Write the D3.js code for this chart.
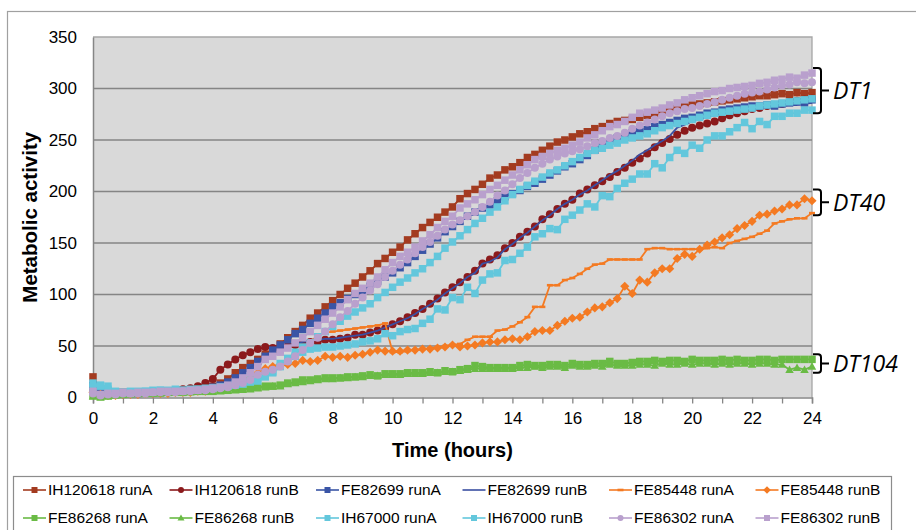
<!DOCTYPE html>
<html>
<head>
<meta charset="utf-8">
<script src="https://cdn.jsdelivr.net/npm/d3@7"></script>
<style>
  body { margin: 0; background: #fff; }
  svg { display: block; font-family: "Liberation Sans", Arial, sans-serif; }
</style>
</head>
<body>
<div id="chart"></div>
<script>
// sampling grid: one reading every 15 minutes
const hours = d3.range(0, 24.01, 0.25);

const seriesNames = [
  "IH120618 runA", "IH120618 runB", "FE82699 runA", "FE82699 runB", "FE85448 runA", "FE85448 runB",
  "FE86268 runA", "FE86268 runB", "IH67000 runA", "IH67000 runB", "FE86302 runA", "FE86302 runB",
];

const ih120618A = [
  20, 8, 6, 5, 5, 4, 5, 5, 5, 5, 6, 6, 7, 7, 8, 9,
  11, 14, 18, 24, 29, 33, 37, 42, 47, 52, 58, 64, 70, 77, 82, 88,
  94, 100, 106, 111, 117, 123, 130, 135, 141, 146, 153, 159, 165, 170, 175, 180,
  185, 193, 198, 202, 207, 213, 216, 221, 224, 228, 233, 236, 240, 244, 248, 250,
  253, 256, 258, 261, 263, 266, 268, 269, 270, 272, 274, 276, 278, 280, 281, 283,
  284, 285, 286, 287, 288, 289, 290, 291, 292, 293, 293, 294, 295, 294, 296, 295,
  296,
];
const ih120618B = [
  8, 4, 3, 3, 4, 4, 4, 5, 5, 5, 6, 6, 8, 9, 11, 14,
  18, 27, 32, 37, 41, 44, 47, 49, 48, 49, 50, 51, 53, 54, 54, 56,
  56, 57, 58, 61, 61, 63, 65, 67, 71, 74, 78, 82, 86, 91, 96, 102,
  107, 112, 117, 123, 130, 134, 138, 145, 150, 156, 161, 166, 173, 178, 183, 188,
  192, 198, 202, 206, 210, 214, 219, 223, 228, 232, 237, 243, 247, 251, 255, 259,
  262, 264, 266, 268, 271, 274, 276, 278, 280, 281, 283, 284, 285, 287, 288, 289,
  290,
];
const fe82699A = [
  12, 6, 5, 4, 4, 5, 4, 5, 5, 5, 5, 6, 6, 7, 7, 8,
  10, 12, 15, 19, 24, 29, 35, 40, 46, 51, 56, 62, 66, 72, 77, 82,
  88, 92, 96, 100, 104, 108, 113, 117, 121, 126, 131, 137, 143, 149, 155, 161,
  166, 171, 176, 180, 184, 187, 191, 195, 198, 201, 205, 208, 212, 216, 220, 224,
  227, 231, 235, 240, 246, 249, 252, 254, 257, 258, 260, 263, 265, 267, 269, 271,
  272, 274, 276, 277, 279, 280, 281, 282, 283, 283, 284, 283, 285, 286, 287, 286,
  289,
];
const fe82699B = [
  10, 5, 4, 4, 4, 4, 5, 5, 5, 5, 5, 6, 6, 7, 7, 8,
  9, 11, 14, 18, 23, 29, 35, 40, 45, 48, 50, 52, 54, 55, 56, 57,
  57, 58, 59, 60, 61, 63, 65, 68, 71, 74, 77, 81, 86, 90, 95, 101,
  106, 111, 117, 121, 130, 132, 136, 144, 149, 155, 160, 166, 172, 177, 183, 188,
  192, 197, 201, 206, 211, 216, 220, 225, 230, 236, 240, 245, 249, 254, 262, 265,
  268, 270, 272, 274, 276, 277, 278, 279, 280, 281, 282, 282, 283, 284, 284, 285,
  286,
];
const fe85448A = [
  3, 2, 2, 3, 3, 3, 4, 3, 4, 4, 4, 5, 5, 5, 6, 6,
  7, 8, 9, 10, 12, 15, 20, 26, 30, 33, 36, 42, 48, 54, 60, 63,
  64, 65, 66, 67, 68, 69, 70, 72, 44, 44, 45, 46, 47, 48, 49, 50,
  51, 52, 56, 59, 59, 59, 65, 66, 69, 73, 78, 88, 88, 109, 109, 114,
  116, 120, 125, 129, 130, 134, 134, 134, 134, 134, 144, 145, 145, 144, 144, 144,
  144, 144, 145, 146, 145, 150, 152, 154, 156, 159, 162, 169, 171, 173, 174, 174,
  179,
];
const fe85448B = [
  5, 3, 2, 2, 3, 3, 3, 4, 4, 4, 4, 5, 5, 5, 6, 6,
  7, 8, 10, 12, 15, 19, 24, 28, 30, 31, 32, 33, 36, 35, 36, 40,
  39, 40, 39, 41, 42, 44, 46, 45, 45, 45, 46, 46, 47, 47, 48, 49,
  51, 49, 50, 51, 53, 54, 54, 56, 57, 56, 59, 64, 65, 65, 70, 74,
  77, 78, 83, 87, 88, 92, 96, 108, 101, 114, 112, 121, 125, 125, 135, 139,
  137, 144, 148, 151, 155, 158, 164, 167, 171, 177, 178, 181, 183, 187, 187, 193,
  191,
];
const fe86268A = [
  2, 1, 2, 3, 3, 4, 4, 4, 4, 5, 5, 5, 5, 6, 6, 6,
  6, 7, 7, 8, 8, 9, 10, 11, 11, 12, 14, 15, 17, 17, 18, 19,
  19, 19, 20, 20, 21, 22, 21, 23, 23, 23, 24, 24, 24, 25, 24, 26,
  25, 27, 28, 31, 30, 29, 29, 29, 29, 31, 32, 31, 31, 32, 32, 31,
  33, 32, 32, 33, 33, 35, 33, 33, 34, 35, 35, 36, 35, 36, 36, 35,
  37, 36, 36, 36, 37, 36, 37, 36, 36, 37, 37, 36, 37, 37, 37, 37,
  37,
];
const fe86268B = [
  1, 0, 1, 2, 3, 3, 4, 4, 4, 4, 5, 5, 5, 5, 6, 6,
  6, 6, 7, 7, 8, 8, 9, 10, 11, 11, 13, 14, 15, 16, 17, 18,
  18, 19, 19, 20, 20, 21, 21, 22, 22, 22, 23, 23, 23, 24, 24, 25,
  25, 26, 27, 28, 28, 28, 28, 28, 28, 29, 29, 30, 29, 30, 30, 29,
  31, 30, 30, 31, 30, 32, 31, 31, 31, 32, 32, 31, 33, 32, 32, 33,
  32, 33, 33, 32, 33, 32, 33, 33, 32, 33, 33, 32, 32, 27, 29, 27,
  30,
];
const ih67000A = [
  14, 11, 11, 6, 5, 5, 6, 6, 7, 7, 6, 7, 7, 7, 8, 8,
  9, 10, 11, 13, 15, 17, 19, 21, 25, 33, 38, 44, 49, 53, 59, 64,
  69, 74, 79, 83, 87, 91, 97, 102, 107, 112, 116, 121, 125, 131, 137, 145,
  151, 157, 163, 169, 174, 180, 185, 191, 197, 202, 206, 210, 214, 218, 221, 225,
  229, 233, 237, 240, 242, 245, 247, 250, 252, 254, 256, 259, 262, 264, 266, 268,
  270, 272, 274, 276, 277, 278, 279, 280, 281, 283, 284, 285, 286, 287, 288, 289,
  290,
];
const ih67000B = [
  10, 12, 8, 5, 5, 6, 5, 6, 6, 7, 7, 8, 7, 8, 8, 9,
  9, 10, 11, 12, 13, 15, 16, 20, 24, 30, 36, 40, 44, 47, 48, 49,
  49, 50, 51, 52, 54, 55, 57, 62, 60, 64, 66, 67, 72, 76, 86, 85,
  97, 95, 107, 101, 114, 120, 121, 133, 134, 140, 146, 156, 159, 164, 163, 173,
  177, 182, 188, 185, 196, 195, 203, 208, 212, 217, 217, 227, 223, 233, 240, 237,
  245, 242, 250, 254, 254, 258, 262, 267, 261, 268, 265, 273, 273, 276, 276, 279,
  279,
];
const fe86302A = [
  4, 2, 3, 3, 4, 4, 4, 4, 5, 5, 5, 5, 6, 6, 7, 7,
  8, 9, 10, 12, 14, 17, 22, 25, 27, 30, 35, 40, 46, 53, 58, 64,
  71, 78, 84, 91, 97, 104, 110, 117, 123, 129, 134, 140, 146, 151, 157, 163,
  168, 172, 176, 180, 185, 190, 196, 201, 207, 213, 218, 223, 227, 231, 234, 237,
  239, 241, 244, 247, 249, 252, 254, 257, 261, 264, 267, 270, 273, 276, 278, 280,
  281, 283, 285, 287, 289, 291, 293, 295, 296, 297, 299, 301, 303, 304, 306, 305,
  306,
];
const fe86302B = [
  6, 3, 4, 4, 5, 4, 5, 5, 5, 6, 6, 6, 6, 7, 7, 8,
  9, 10, 12, 15, 19, 24, 30, 37, 40, 44, 48, 53, 58, 64, 70, 76,
  82, 88, 95, 101, 106, 111, 117, 124, 131, 137, 141, 146, 152, 158, 165, 171,
  176, 184, 188, 192, 197, 202, 206, 211, 216, 221, 226, 231, 234, 237, 240, 242,
  245, 248, 252, 255, 259, 263, 265, 268, 272, 276, 277, 279, 281, 284, 286, 289,
  291, 293, 295, 297, 298, 300, 301, 302, 303, 305, 306, 308, 309, 311, 310, 313,
  315,
];

const seriesValues = [
  ih120618A, ih120618B, fe82699A, fe82699B, fe85448A, fe85448B,
  fe86268A, fe86268B, ih67000A, ih67000B, fe86302A, fe86302B,
];

const yTicks = [0, 50, 100, 150, 200, 250, 300, 350];
const xTicks = [0, 2, 4, 6, 8, 10, 12, 14, 16, 18, 20, 22, 24];
const xMinorTicks = [0, 1, 2, 3, 4, 5, 6, 7, 8, 9, 10, 11, 12, 13, 14, 15, 16, 17, 18, 19, 20, 21, 22, 23, 24];

const groupLabels = ["DT1", "DT40", "DT104"];
const groupLow = [276, 177, 24];
const groupHigh = [320, 202, 42];

// look of each series (colour, marker)
const seriesStyle = [
  { color: "#a33b20", marker: "square" },
  { color: "#8b1a1c", marker: "circle" },
  { color: "#3a55a6", marker: "square" },
  { color: "#3a4fa2", marker: "none" },
  { color: "#f47a22", marker: "dash" },
  { color: "#f47a22", marker: "diamond" },
  { color: "#6abb45", marker: "square" },
  { color: "#6abb45", marker: "triangle" },
  { color: "#63c7dc", marker: "square" },
  { color: "#63c7dc", marker: "square" },
  { color: "#b9a0cd", marker: "circle" },
  { color: "#b9a0cd", marker: "square" },
];

class TimeCourseChart {
  constructor(container) {
    this.width = 916;
    this.height = 530;
    this.padding = { t: 37, b: 132.5, s: 93, e: 104 };
    this.svg = d3.select(container).append("svg").attr("width", this.width).attr("height", this.height);
    this.xScale = d3.scaleLinear().domain([0, 24]).range([this.padding.s, this.width - this.padding.e]);
    this.yScale = d3.scaleLinear().domain([0, 350]).range([this.height - this.padding.b, this.padding.t]);
    this.draw();
  }

  markerPath(type, size) {
    const h = size / 2;
    if (type === "square") return `M${-h},${-h}h${size}v${size}h${-size}Z`;
    if (type === "circle") return d3.symbol(d3.symbolCircle, Math.PI * h * h)();
    if (type === "diamond") return `M0,${-h - 0.8}L${h + 0.8},0L0,${h + 0.8}L${-h - 0.8},0Z`;
    if (type === "triangle") return `M0,${-h - 0.5}L${h + 0.5},${h - 0.5}L${-h - 0.5},${h - 0.5}Z`;
    if (type === "dash") return `M${-h},-1.3h${size}v2.6h${-size}Z`;
    return null;
  }

  markerSize(type) {
    if (type === "dash") return 6;
    if (type === "circle") return 8;
    return 7.5;
  }

  draw = () => {
    const x = this.xScale;
    const y = this.yScale;
    const [x0, x1] = x.range();
    const [y0, y1] = y.range();

    // outer chart frame
    this.svg
      .append("rect")
      .attr("x", 7.5)
      .attr("y", 11.5)
      .attr("width", 1000)
      .attr("height", 800)
      .attr("fill", "none")
      .attr("stroke", "#a0a0a0")
      .attr("stroke-width", 1.2);

    // plot area
    this.svg.append("rect").attr("x", x0).attr("y", y1).attr("width", x1 - x0).attr("height", y0 - y1).attr("fill", "#d9d9d9");
    this.svg
      .append("path")
      .attr("d", `M${x0},${y1}H${x1}V${y0}`)
      .attr("fill", "none")
      .attr("stroke", "#a6a6a6")
      .attr("stroke-width", 1.3);

    this.svg
      .append("g")
      .selectAll("line")
      .data(yTicks.filter((d) => d > 0 && d < 350))
      .join("line")
      .attr("x1", x0)
      .attr("x2", x1)
      .attr("y1", (d) => y(d))
      .attr("y2", (d) => y(d))
      .attr("stroke", "#858585")
      .attr("stroke-width", 1.5);

    // axes
    const yAxis = this.svg
      .append("g")
      .attr("transform", `translate(${x0},0)`)
      .call(d3.axisLeft(y).tickValues(yTicks).tickSize(0).tickPadding(16));
    yAxis.select(".domain").attr("stroke", "#868686").attr("stroke-width", 1.5);
    yAxis.selectAll("text").attr("font-size", 17).attr("fill", "#000").attr("font-family", "Liberation Sans, Arial, sans-serif");

    const xMinor = this.svg
      .append("g")
      .attr("transform", `translate(0,${y0})`)
      .call(d3.axisBottom(x).tickValues(xMinorTicks).tickSize(6).tickFormat(""));
    xMinor.select(".domain").attr("stroke", "#868686").attr("stroke-width", 1.5);
    xMinor.selectAll(".tick line").attr("stroke", "#868686").attr("stroke-width", 1.3);

    const xAxis = this.svg
      .append("g")
      .attr("transform", `translate(0,${y0})`)
      .call(d3.axisBottom(x).tickValues(xTicks).tickSize(0).tickPadding(14));
    xAxis.select(".domain").remove();
    xAxis.selectAll("text").attr("font-size", 17).attr("fill", "#000").attr("font-family", "Liberation Sans, Arial, sans-serif");

    // axis titles
    this.svg
      .append("text")
      .attr("transform", `translate(37,${(y0 + y1) / 2}) rotate(-90)`)
      .attr("text-anchor", "middle")
      .attr("font-size", 20.5)
      .attr("font-weight", "bold")
      .text("Metabolic activity");
    this.svg
      .append("text")
      .attr("x", (x0 + x1) / 2)
      .attr("y", 457)
      .attr("text-anchor", "middle")
      .attr("font-size", 20)
      .attr("font-weight", "bold")
      .text("Time (hours)");

    // series
    const line = d3
      .line()
      .x((d, i) => x(hours[i]))
      .y((d) => y(d));
    const series = this.svg
      .append("g")
      .selectAll("g")
      .data(seriesValues)
      .join("g");
    series
      .append("path")
      .attr("d", (d) => line(d))
      .attr("fill", "none")
      .attr("stroke", (d, i) => seriesStyle[i].color)
      .attr("stroke-width", 1.8)
      .attr("stroke-linejoin", "round");
    series.each((vals, k, nodes) => {
      const st = seriesStyle[k];
      if (st.marker === "none") return;
      d3.select(nodes[k])
        .selectAll("path.mk")
        .data(vals)
        .join("path")
        .attr("class", "mk")
        .attr("d", this.markerPath(st.marker, this.markerSize(st.marker)))
        .attr("transform", (d, i) => `translate(${x(hours[i])},${y(d)})`)
        .attr("fill", st.color);
    });

    // group brackets on the right
    const bx = x1 + 1;
    const brackets = this.svg
      .append("g")
      .selectAll("g")
      .data(groupLabels)
      .join("g");
    brackets
      .append("path")
      .attr("d", (d, i) => {
        const top = y(groupHigh[i]);
        const bot = y(groupLow[i]);
        const mid = (top + bot) / 2;
        return `M${bx},${top}H${bx + 5}Q${bx + 8},${top} ${bx + 8},${top + 3}V${mid}H${bx + 16}M${bx + 8},${mid}V${bot - 3}Q${bx + 8},${bot} ${bx + 5},${bot}H${bx}`;
      })
      .attr("fill", "none")
      .attr("stroke", "#000")
      .attr("stroke-width", 2);
    brackets
      .append("text")
      .attr("x", bx + 20)
      .attr("y", (d, i) => (y(groupHigh[i]) + y(groupLow[i])) / 2)
      .attr("dy", "0.36em")
      .attr("font-family", "Open Sans, sans-serif")
      .attr("font-style", "italic")
      .attr("font-size", 23)
      .text((d) => d);

    // legend
    const legendBox = this.svg.append("g");
    legendBox
      .append("rect")
      .attr("x", 13.5)
      .attr("y", 476.5)
      .attr("width", 878)
      .attr("height", 80)
      .attr("fill", "#fff")
      .attr("stroke", "#8c8c8c")
      .attr("stroke-width", 1.2);
    const items = legendBox
      .selectAll("g")
      .data(seriesNames.map((name, i) => ({ name, i })))
      .join("g")
      .attr("transform", (d) => `translate(${23 + (d.i % 6) * 146.5},${d.i < 6 ? 490 : 518})`);
    items
      .append("line")
      .attr("x1", 0)
      .attr("x2", 23)
      .attr("stroke", (d) => seriesStyle[d.i].color)
      .attr("stroke-width", 1.6);
    items
      .filter((d) => seriesStyle[d.i].marker !== "none")
      .append("path")
      .attr("transform", "translate(11.5,0)")
      .attr("d", (d) => this.markerPath(seriesStyle[d.i].marker, 6))
      .attr("fill", (d) => seriesStyle[d.i].color);
    items
      .append("text")
      .attr("x", 25)
      .attr("dy", "0.35em")
      .attr("font-size", 15.5)
      .text((d) => d.name);
  };
}

new TimeCourseChart("#chart");
</script>
</body>
</html>
